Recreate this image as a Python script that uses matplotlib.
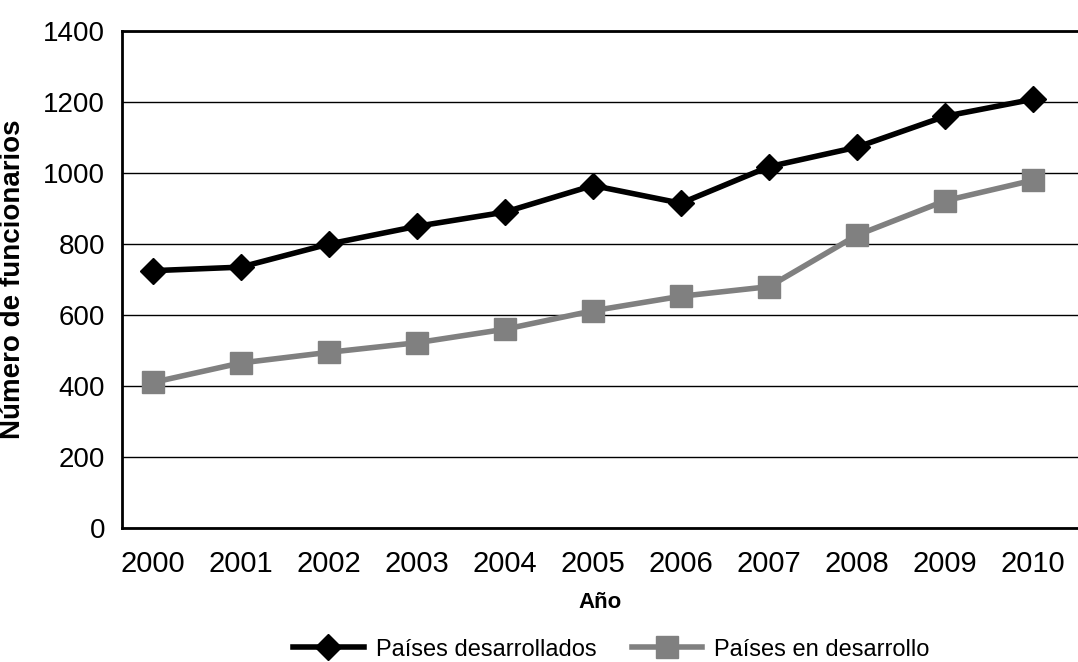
import matplotlib
matplotlib.use("Agg")
import matplotlib.pyplot as plt

years = [2000, 2001, 2002, 2003, 2004, 2005, 2006, 2007, 2008, 2009, 2010]
desarrollados = [725, 735, 800, 850, 890, 965, 915, 1018, 1073, 1160, 1208]
en_desarrollo = [410, 465, 495, 522, 560, 612, 653, 680, 825, 922, 980]
yticks = [0, 200, 400, 600, 800, 1000, 1200, 1400]

plt.rcParams['font.family'] = ['Liberation Sans', 'DejaVu Sans']

fig = plt.figure(figsize=(10.78, 6.62), dpi=100)
ax = fig.add_axes([0.113, 0.2024, 0.887, 0.7506])

ax.plot(years, desarrollados, color='black', lw=4, marker='D', ms=13,
        label='Países desarrollados', zorder=3)
ax.plot(years, en_desarrollo, color='#808080', lw=4, marker='s', ms=16,
        label='Países en desarrollo', zorder=3)

ax.set_xlim(1999.65, 2010.51)
ax.set_ylim(0, 1400)
ax.set_yticks(yticks)
ax.set_xticks(years)
ax.yaxis.grid(True, color='black', lw=1)
ax.set_axisbelow(True)
ax.spines['right'].set_visible(False)
for s in ['left', 'bottom', 'top']:
    ax.spines[s].set_linewidth(2)
ax.tick_params(axis='y', length=0, labelsize=20, pad=12)
ax.tick_params(axis='x', length=0, labelsize=21, pad=16)

ax.set_xlabel('Año', fontsize=16, fontweight='bold', labelpad=10)
ax.set_ylabel('Número de funcionarios', fontsize=20, fontweight='bold')
ax.yaxis.set_label_coords(-0.1, 0.5)

fig.legend(loc='lower center', bbox_to_anchor=(0.567, -0.03), ncol=2, frameon=False,
           fontsize=17, handlelength=3, columnspacing=1.5, handletextpad=0.5)

fig.savefig('out.png', dpi=100)
